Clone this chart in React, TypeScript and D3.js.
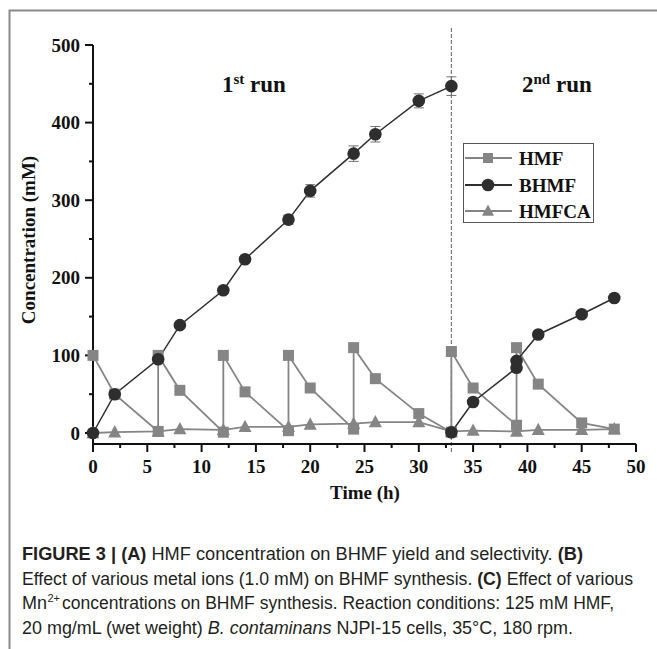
import React from "react";
import * as d3 from "d3";

const hmfTime = [0, 2, 6, 6, 8, 12, 12, 14, 18, 18, 20, 24, 24, 26, 30, 33, 33, 35, 39, 39, 41, 45, 48];
const hmfConc = [100, 50, 2, 100, 55, 1, 100, 53, 3, 100, 58, 5, 110, 70, 25, 1, 105, 58, 10, 110, 63, 13, 5];

const bhmf1Time = [0, 2, 6, 8, 12, 14, 18, 20, 24, 26, 30, 33];
const bhmf1Conc = [0, 50, 95, 139, 184, 224, 275, 312, 360, 385, 428, 447];
const bhmf1Err = [2, 3, 4, 3, 3, 3, 6, 8, 10, 10, 9, 12];

const bhmf2Time = [33, 35, 39, 39, 41, 45, 48];
const bhmf2Conc = [1, 40, 84, 93, 127, 153, 174];
const bhmf2Err = [1, 2, 2, 2, 2, 2, 4];

const hmfcaTime = [0, 2, 6, 8, 12, 14, 18, 20, 24, 26, 30, 33, 35, 39, 41, 45, 48];
const hmfcaConc = [0, 1, 2, 5, 4, 8, 8, 11, 12, 14, 14, 2, 3, 2, 4, 4, 5];

const xTicks = [0, 5, 10, 15, 20, 25, 30, 35, 40, 45, 50];
const yTicks = [0, 100, 200, 300, 400, 500];
const legendLabels = ["HMF", "BHMF", "HMFCA"];

const captionLines = [
  { x: 22, len: 561, parts: [
    { t: "FIGURE 3 | (A)", b: true }, { t: " HMF concentration on BHMF yield and selectivity. " }, { t: "(B)", b: true },
  ] },
  { x: 22, len: 611, parts: [
    { t: "Effect of various metal ions (1.0 mM) on BHMF synthesis. " }, { t: "(C)", b: true }, { t: " Effect of various" },
  ] },
  { x: 62, len: 552, parts: [
    { t: "concentrations on BHMF synthesis. Reaction conditions: 125 mM HMF," },
  ] },
  { x: 22, len: 551, parts: [
    { t: "20 mg/mL (wet weight) " }, { t: "B. contaminans", i: true }, { t: " NJPI-15 cells, 35°C, 180 rpm." },
  ] },
];

const SERIF = "'Liberation Serif', 'Times New Roman', serif";
const SANS = "'Liberation Sans', Arial, sans-serif";
const GRAY = "#858585";
const DARK = "#2e2e2e";

export default function App() {
  const x = d3.scaleLinear().domain([0, 50]).range([93, 636]);
  const y = d3.scaleLinear().domain([0, 500]).range([433, 45]);
  const axisY = 444;

  const line = d3.line<[number, number]>().x((d) => x(d[0])).y((d) => y(d[1]));
  const hmfPts = hmfTime.map((t, i) => [t, hmfConc[i]] as [number, number]);
  const b1Pts = bhmf1Time.map((t, i) => [t, bhmf1Conc[i]] as [number, number]);
  const b2Pts = bhmf2Time.map((t, i) => [t, bhmf2Conc[i]] as [number, number]);
  const caPts = hmfcaTime.map((t, i) => [t, hmfcaConc[i]] as [number, number]);

  const xMinor = d3.range(2.5, 50, 5);
  const yMinor = d3.range(50, 500, 100);

  const square = (cx: number, cy: number, key: string, s = 11) => (
    <rect key={key} x={cx - s / 2} y={cy - s / 2} width={s} height={s} fill={GRAY} />
  );
  const tri = (cx: number, cy: number, key: string, s = 13) => (
    <path key={key} d={`M${cx},${cy - s * 0.55}L${cx + s / 2},${cy + s * 0.4}L${cx - s / 2},${cy + s * 0.4}Z`} fill={GRAY} />
  );
  const circ = (cx: number, cy: number, key: string) => (
    <circle key={key} cx={cx} cy={cy} r={6.3} fill={DARK} />
  );

  const errBars = (times: number[], vals: number[], errs: number[], k: string) =>
    times.map((t, i) => {
      const cx = x(t);
      const y1 = y(vals[i] + errs[i]);
      const y2 = y(vals[i] - errs[i]);
      return (
        <g key={k + i} stroke="#707070" strokeWidth={1}>
          <line x1={cx} x2={cx} y1={y1} y2={y2} />
          <line x1={cx - 5} x2={cx + 5} y1={y1} y2={y1} />
          <line x1={cx - 5} x2={cx + 5} y1={y2} y2={y2} />
        </g>
      );
    });

  const legendY = [158, 185, 211];
  const capY = (i: number) => 560 + i * 24.5;

  return (
    <svg width={657} height={649} style={{ position: "fixed", left: 0, top: 0, background: "#fff" }}>
      <rect x={0} y={0} width={657} height={649} fill="#fff" />
      {/* frame */}
      <path d="M9.5,649V10.5H657" fill="none" stroke="#8a8a8a" strokeWidth={2} />

      {/* dashed separator */}
      <line x1={x(33)} x2={x(33)} y1={28} y2={453} stroke="#7a7a7a" strokeWidth={1.2} strokeDasharray="4,2" />

      {/* axes */}
      <g stroke="#111" strokeWidth={2} fill="none">
        <line x1={93} x2={93} y1={y(500)} y2={axisY} />
        <line x1={93} x2={636} y1={axisY} y2={axisY} />
        {yTicks.map((v) => <line key={"yt" + v} x1={85} x2={93} y1={y(v)} y2={y(v)} />)}
        {yMinor.map((v) => <line key={"ym" + v} x1={89} x2={93} y1={y(v)} y2={y(v)} />)}
        {xTicks.map((v) => <line key={"xt" + v} x1={x(v)} x2={x(v)} y1={axisY} y2={axisY + 8} />)}
        {xMinor.map((v) => <line key={"xm" + v} x1={x(v)} x2={x(v)} y1={axisY} y2={axisY + 4} />)}
      </g>
      <g fontFamily={SERIF} fontWeight="bold" fontSize={19} fill="#111">
        {yTicks.map((v) => (
          <text key={"yl" + v} x={80} y={y(v) + 6.5} textAnchor="end">{v}</text>
        ))}
        {xTicks.map((v) => (
          <text key={"xl" + v} x={x(v)} y={473} textAnchor="middle">{v}</text>
        ))}
        <text x={365} y={499} textAnchor="middle">Time (h)</text>
        <text transform="translate(35,240) rotate(-90)" textAnchor="middle">Concentration (mM)</text>
      </g>

      {/* run labels */}
      <g fontFamily={SERIF} fontWeight="bold" fill="#111">
        <text x={222} y={92} fontSize={23}>1<tspan fontSize={15} dy={-8}>st</tspan><tspan dy={8}> run</tspan></text>
        <text x={522} y={92} fontSize={23}>2<tspan fontSize={15} dy={-8}>nd</tspan><tspan dy={8}> run</tspan></text>
      </g>

      {/* series lines */}
      <path d={line(hmfPts) || ""} fill="none" stroke={GRAY} strokeWidth={1.8} />
      <path d={line(caPts) || ""} fill="none" stroke={GRAY} strokeWidth={1.8} />
      <path d={line(b1Pts) || ""} fill="none" stroke={DARK} strokeWidth={1.5} />
      <path d={line(b2Pts) || ""} fill="none" stroke={DARK} strokeWidth={1.5} />

      {errBars(bhmf1Time, bhmf1Conc, bhmf1Err, "e1")}
      {errBars(bhmf2Time, bhmf2Conc, bhmf2Err, "e2")}

      {hmfPts.map((p, i) => square(x(p[0]), y(p[1]), "s" + i))}
      {caPts.map((p, i) => tri(x(p[0]), y(p[1]), "t" + i))}
      {b1Pts.map((p, i) => circ(x(p[0]), y(p[1]), "c1" + i))}
      {b2Pts.map((p, i) => circ(x(p[0]), y(p[1]), "c2" + i))}

      {/* legend */}
      <rect x={463.5} y={143.5} width={130} height={79} fill="#fff" stroke="#555" strokeWidth={1} />
      {legendLabels.map((lab, i) => {
        const ly = legendY[i];
        const col = i === 1 ? DARK : GRAY;
        return (
          <g key={lab}>
            <line x1={465} x2={512} y1={ly} y2={ly} stroke={col} strokeWidth={1.8} />
            {i === 0 && square(488, ly, "ls", 10)}
            {i === 1 && circ(488, ly, "lc")}
            {i === 2 && tri(488, ly, "lt", 12)}
            <text x={519} y={ly + 6.5} fontFamily={SERIF} fontWeight="bold" fontSize={19} fill="#111">{lab}</text>
          </g>
        );
      })}

      {/* caption */}
      <g fontFamily={SANS} fontSize={17.5} fill="#231f20">
        <text x={22} y={capY(2)} textLength={25} lengthAdjust="spacingAndGlyphs">Mn</text>
        <text x={47.5} y={capY(2) - 7} fontSize={11}>2+</text>
        {captionLines.map((ln, i) => (
          <text key={"cap" + i} x={ln.x} y={capY(i)} textLength={ln.len} lengthAdjust="spacingAndGlyphs">
            {ln.parts.map((p: any, j: number) => (
              <tspan
                key={j}
                fontWeight={p.b ? "bold" : undefined}
                fontStyle={p.i ? "italic" : undefined}
              >{p.t}</tspan>
            ))}
          </text>
        ))}
      </g>
    </svg>
  );
}
